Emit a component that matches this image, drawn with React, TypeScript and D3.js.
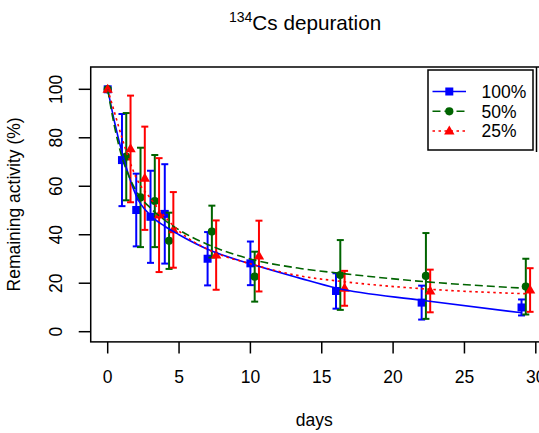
import React from "react";
import * as d3 from "d3";

// ---- data ----
const xTicks = [0, 5, 10, 15, 20, 25, 30];
const yTicks = [0, 20, 40, 60, 80, 100];

const daysBlue = [0, 1, 2, 3, 4, 7, 10, 16, 22, 29];
const meanBlue = [100, 70.8, 50.2, 47.4, 48.6, 30.1, 28.2, 16.8, 12, 10];
const errBlue = [0, 19, 15, 19, 20.5, 11, 9, 7.3, 7, 3.3];

const daysGreen = [0, 1.3, 2.3, 3.3, 4.3, 7.3, 10.3, 16.3, 22.3, 29.3];
const meanGreen = [100, 72.2, 55.4, 53.9, 37.5, 41.3, 22.7, 23.4, 23, 18.6];
const errGreen = [0, 18, 20.5, 19, 11.6, 10.7, 10.3, 14.4, 17.7, 11.5];

const daysRed = [0, 1.6, 2.6, 3.6, 4.6, 7.6, 10.6, 16.6, 22.6, 29.6];
const meanRed = [100, 75.4, 63.3, 48.1, 42, 31.6, 31.2, 17.9, 16.8, 17.2];
const errRed = [0, 22, 21.3, 23.5, 15.6, 14.3, 14.6, 7.2, 8.8, 9];

const fitDaysBlue = [0, 0.5, 1, 1.5, 2, 3, 4, 5, 7, 10, 13.5, 16, 22, 29];
const fitBlue = [100, 86, 74, 64, 56, 48, 43.5, 40, 34, 28, 22, 18, 13, 7.8];
const fitDaysGreen = [0, 0.5, 1, 1.5, 2, 3, 4, 5, 7, 10, 13.5, 16.3, 22.3, 29.3];
const fitGreen = [100, 84, 72, 64, 58, 51, 46, 42, 36, 30, 26.1, 24.1, 20.6, 17.9];
const fitDaysRed = [0, 0.5, 1, 1.5, 2, 3, 4, 5, 7, 10, 13.5, 16.6, 22.6, 29.6];
const fitRed = [100, 90, 80, 71, 63.5, 55, 47.5, 41.5, 34, 28, 23, 20.6, 17.5, 15.6];

const legendLabels = ["100%", "50%", "25%"];

const FONT = "'Liberation Sans', Arial, Helvetica, sans-serif";

export default function App() {
  const W = 539, H = 433;
  const x = d3.scaleLinear().domain([0, 30]).range([107.7, 535.8]);
  const y = d3.scaleLinear().domain([0, 100]).range([331.7, 89.3]);
  const boxL = x(-1.19), boxR = x(30.8), boxT = y(109.2), boxB = y(-4.2);

  const series = [
    { days: daysBlue, mean: meanBlue, err: errBlue, fd: fitDaysBlue, fv: fitBlue, color: "#0000FF", dash: "none", shape: "square" },
    { days: daysGreen, mean: meanGreen, err: errGreen, fd: fitDaysGreen, fv: fitGreen, color: "#006400", dash: "8,4", shape: "circle" },
    { days: daysRed, mean: meanRed, err: errRed, fd: fitDaysRed, fv: fitRed, color: "#FF0000", dash: "2.5,3.5", shape: "triangle" },
  ];

  const line = d3.line<[number, number]>().x(d => x(d[0])).y(d => y(d[1])).curve(d3.curveMonotoneX);

  const marker = (shape: string, cx: number, cy: number, color: string, key: string) => {
    if (shape === "square") return <rect key={key} x={cx - 4} y={cy - 4} width={8} height={8} fill={color} />;
    if (shape === "circle") return <circle key={key} cx={cx} cy={cy} r={4.1} fill={color} />;
    return <path key={key} d={`M${cx},${cy - 5.6} L${cx + 5.2},${cy + 3.4} L${cx - 5.2},${cy + 3.4} Z`} fill={color} />;
  };

  const legY = [91.5, 111.3, 131];

  return (
    <svg width={W} height={H} style={{ position: "absolute", left: 0, top: 0, background: "#fff" }} fontFamily={FONT}>
      <rect width={W} height={H} fill="#fff" />
      {/* title */}
      <text x={229} y={30} fontSize={20.7} fill="#000">
        <tspan fontSize={14} dy={-8}>134</tspan>
        <tspan dy={8} fontSize={20.7}>Cs depuration</tspan>
      </text>

      {/* error bars and points */}
      {series.map((s, si) => (
        <g key={"s" + si}>
          {s.days.map((d, i) => {
            if (s.err[i] <= 0) return null;
            const cx = x(d), y1 = y(s.mean[i] + s.err[i]), y2 = y(s.mean[i] - s.err[i]);
            return (
              <g key={i} stroke={s.color} strokeWidth={2}>
                <line x1={cx} x2={cx} y1={y1} y2={y2} />
                <line x1={cx - 3.5} x2={cx + 3.5} y1={y1} y2={y1} />
                <line x1={cx - 3.5} x2={cx + 3.5} y1={y2} y2={y2} />
              </g>
            );
          })}
          {s.days.map((d, i) => marker(s.shape, x(d), y(s.mean[i]), s.color, "m" + i))}
        </g>
      ))}

      {/* fitted curves */}
      {series.map((s, si) => (
        <path key={"c" + si}
          d={line(s.fd.map((d, i) => [d, s.fv[i]] as [number, number])) || ""}
          fill="none" stroke={s.color} strokeWidth={1.6}
          strokeDasharray={s.dash === "none" ? undefined : s.dash} />
      ))}

      {/* box */}
      <rect x={boxL} y={boxT} width={boxR - boxL} height={boxB - boxT} fill="none" stroke="#000" strokeWidth={1.5} />

      {/* x axis */}
      {xTicks.map(t => (
        <g key={"xt" + t}>
          <line x1={x(t)} x2={x(t)} y1={boxB} y2={boxB + 11.6} stroke="#000" strokeWidth={1.5} />
          <text x={x(t)} y={383} fontSize={17.5} textAnchor="middle" fill="#000">{t}</text>
        </g>
      ))}
      <text x={(boxL + 535.8) / 2 + 1} y={426} fontSize={17.5} textAnchor="middle" fill="#000">days</text>

      {/* y axis */}
      {yTicks.map(t => (
        <g key={"yt" + t}>
          <line x1={boxL - 12} x2={boxL} y1={y(t)} y2={y(t)} stroke="#000" strokeWidth={1.5} />
          <text transform={`translate(62,${y(t)}) rotate(-90)`} fontSize={17.5} textAnchor="middle" fill="#000">{t}</text>
        </g>
      ))}
      <text transform={`translate(20,${(boxT + boxB) / 2 + 0}) rotate(-90)`} fontSize={17.5} textAnchor="middle" fill="#000">Remaining activity (%)</text>

      {/* legend */}
      <rect x={428} y={70} width={105} height={80} fill="#fff" stroke="#000" strokeWidth={1.5} />
      <line x1={536.5} x2={536.5} y1={boxT} y2={152} stroke="#000" strokeWidth={1.5} />
      {series.map((s, i) => (
        <g key={"lg" + i}>
          <line x1={432.5} x2={466} y1={legY[i]} y2={legY[i]} stroke={s.color} strokeWidth={1.6}
            strokeDasharray={s.dash === "none" ? undefined : s.dash} />
          {marker(s.shape, 449.3, legY[i], s.color, "lm" + i)}
          <text x={481.5} y={legY[i] + 6.3} fontSize={17.5} fill="#000">{legendLabels[i]}</text>
        </g>
      ))}
    </svg>
  );
}
